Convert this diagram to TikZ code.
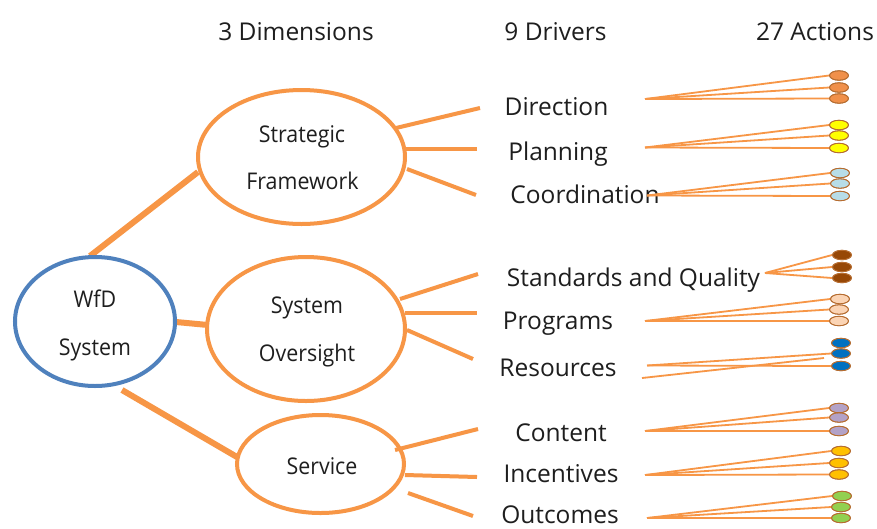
\documentclass[tikz,border=0pt]{standalone}
\usepackage{fontspec}
\setmainfont{Open Sans}
\newfontfamily\drvfont{Open Sans}
\newfontfamily\elfont[FakeStretch=0.93]{Open Sans}
\usetikzlibrary{shapes.geometric}
\definecolor{lineor}{HTML}{F79646}
\definecolor{wfdblue}{HTML}{4F81BD}
\definecolor{txt}{HTML}{1E1E1E}
\definecolor{actborder}{HTML}{B66D31}
\definecolor{cOrange}{HTML}{F0904A}
\definecolor{cYellow}{HTML}{FFFF00}
\definecolor{cLightblue}{HTML}{B7DDE8}
\definecolor{cBrown}{HTML}{974806}
\definecolor{cPeach}{HTML}{FBD4B4}
\definecolor{cBlue}{HTML}{0070C0}
\definecolor{cPurple}{HTML}{B3A2C7}
\definecolor{cGold}{HTML}{FFC000}
\definecolor{cGreen}{HTML}{92D050}
\begin{document}
\begin{tikzpicture}[x=1pt,y=-1pt,
  bigell/.style={ellipse, draw=lineor, line width=4pt, inner sep=0pt, outer sep=0pt},
  thicklink/.style={draw=lineor, line width=6pt},
  drvlink/.style={draw=lineor, line width=4pt},
  actlink/.style={draw=lineor, line width=1.8pt},
  act/.style={ellipse, draw=actborder, line width=0.8pt, minimum width=19pt, minimum height=9.5pt, inner sep=0pt},
  drv/.style={anchor=base, text=txt, font=\drvfont\fontsize{24.5}{30}\selectfont, inner sep=0pt},
  hdr/.style={anchor=base, text=txt, font=\drvfont\fontsize{24.5}{30}\selectfont, inner sep=0pt},
  eltext/.style={anchor=base, text=txt, font=\elfont\fontsize{23}{28}\selectfont, inner sep=0pt}
]
\useasboundingbox (0,0) rectangle (877,528);
\fill[white] (0,0) rectangle (877,528);

% headers
\node[hdr] (h1) at (296,40) {3 Dimensions};
\node[hdr] (h2) at (555.5,40) {9 Drivers};
\node[hdr] (h3) at (815,40) {27 Actions};

% thick connectors from WfD
\coordinate (w1) at (90,256);   \coordinate (s1) at (198,172);
\coordinate (w2) at (176,322);  \coordinate (s2) at (208,325);
\coordinate (w3) at (122,390);  \coordinate (s3) at (237,457);
\draw[thicklink] (w1) -- (s1);
\draw[thicklink] (w2) -- (s2);
\draw[thicklink] (w3) -- (s3);

% driver connectors
\coordinate (a1) at (396,128); \coordinate (b1) at (480,108);
\coordinate (a2) at (406,149); \coordinate (b2) at (477,149);
\coordinate (a3) at (407,169); \coordinate (b3) at (476,195);
\coordinate (a4) at (400,299); \coordinate (b4) at (478,274);
\coordinate (a5) at (405,313); \coordinate (b5) at (477,313);
\coordinate (a6) at (407,330); \coordinate (b6) at (473,359);
\coordinate (a7) at (395,450); \coordinate (b7) at (478,429);
\coordinate (a8) at (405,475); \coordinate (b8) at (477,477);
\coordinate (a9) at (408,493); \coordinate (b9) at (473,516);
\foreach \i in {1,...,9} {\draw[drvlink] (a\i) -- (b\i);}

% big ellipses
\node[bigell, draw=wfdblue, minimum width=160pt, minimum height=129pt] (wfd) at (95,321.5) {};
\node[bigell, minimum width=207pt, minimum height=134pt] (sf) at (301.5,157) {};
\node[bigell, minimum width=198pt, minimum height=144pt] (so) at (306,329) {};
\node[bigell, minimum width=167pt, minimum height=98pt] (sv) at (320.5,464) {};

% ellipse texts
\node[eltext] (t1) at (95,307) {WfD};
\node[eltext] (t2) at (95,355) {System};
\node[eltext] (t3) at (302,142) {Strategic};
\node[eltext] (t4) at (302.5,189) {Framework};
\node[eltext] (t5) at (307,313) {System};
\node[eltext] (t6) at (307,361) {Oversight};
\node[eltext] (t7) at (322,474) {Service};

% drivers
\node[drv] (d1) at (556.5,115) {Direction};
\node[drv] (d2) at (558,160) {Planning};
\node[drv] (d3) at (585,203) {Coordination};
\node[drv] (d4) at (633.5,286) {Standards and Quality};
\node[drv] (d5) at (558,329) {Programs};
\node[drv] (d6) at (558,376) {Resources};
\node[drv] (d7) at (561,441) {Content};
\node[drv] (d8) at (561,482) {Incentives};
\node[drv] (d9) at (560,523) {Outcomes};

% action fan origins
\coordinate (o1) at (645,99);
\coordinate (o2) at (645,147.5);
\coordinate (o3) at (647,195.5);
\coordinate (o4) at (765,273);
\coordinate (o5) at (645,321);
\coordinate (o6) at (647,365.5);
\coordinate (o7) at (645,431);
\coordinate (o8) at (645,475);
\coordinate (o9) at (647,518);
\coordinate (x1) at (642,378);
\coordinate (x2) at (824,358);

% action ellipses
\path
  node[act, fill=cOrange] (e11) at (839,75.5) {}
  node[act, fill=cOrange] (e12) at (839,87.5) {}
  node[act, fill=cOrange] (e13) at (839,98.5) {}
  node[act, fill=cYellow] (e21) at (839,125) {}
  node[act, fill=cYellow] (e22) at (839,135.5) {}
  node[act, fill=cYellow] (e23) at (839,148) {}
  node[act, fill=cLightblue] (e31) at (840,173) {}
  node[act, fill=cLightblue] (e32) at (840,183.5) {}
  node[act, fill=cLightblue] (e33) at (840,196) {}
  node[act, fill=cBrown] (e41) at (842,255) {}
  node[act, fill=cBrown] (e42) at (842,267) {}
  node[act, fill=cBrown] (e43) at (842,278) {}
  node[act, fill=cPeach] (e51) at (840,299) {}
  node[act, fill=cPeach] (e52) at (839,309.5) {}
  node[act, fill=cPeach] (e53) at (839,321) {}
  node[act, fill=cBlue] (e61) at (841,343) {}
  node[act, fill=cBlue] (e62) at (841,353.5) {}
  node[act, fill=cBlue] (e63) at (841,366) {}
  node[act, fill=cPurple] (e71) at (839,408) {}
  node[act, fill=cPurple] (e72) at (839,417.5) {}
  node[act, fill=cPurple] (e73) at (839,431) {}
  node[act, fill=cGold] (e81) at (841,451) {}
  node[act, fill=cGold] (e82) at (839,463) {}
  node[act, fill=cGold] (e83) at (839,474.5) {}
  node[act, fill=cGreen] (e91) at (842,496) {}
  node[act, fill=cGreen] (e92) at (841,507) {}
  node[act, fill=cGreen] (e93) at (841,518) {};

% action links
\foreach \g in {1,2,3,4,5,7,8,9} {
  \foreach \k in {1,2,3} {\draw[actlink] (o\g) -- (e\g\k.west);}
}
\draw[actlink] (o6) -- (e62.west);
\draw[actlink] (o6) -- (e63.west);
\draw[actlink] (x1) -- (x2);

% ellipse outlines on top of links
\foreach \n in {11,12,13,21,22,23,31,32,33,41,42,43,51,52,53,61,62,63,71,72,73,81,82,83,91,92,93} {
  \draw[actborder, line width=0.8pt] (e\n.center) ellipse [x radius=9.5pt, y radius=4.75pt];
}
\end{tikzpicture}
\end{document}
